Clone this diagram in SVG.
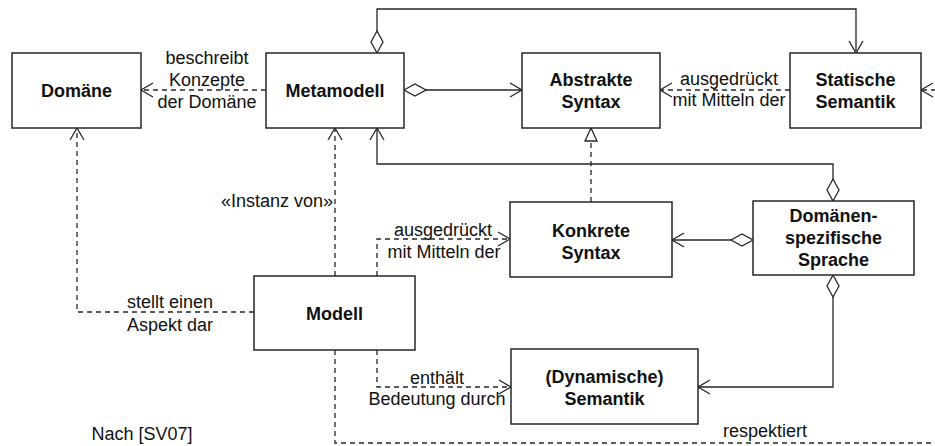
<svg xmlns="http://www.w3.org/2000/svg" width="935" height="446" viewBox="0 0 935 446">
  <style>
    .box { fill: #ffffff; stroke: #262626; stroke-width: 1.5; }
    .name { font-family: "Liberation Sans", Arial, sans-serif; font-size: 18px; font-weight: bold; fill: #111111; text-anchor: middle; }
    .lbl { font-family: "Liberation Sans", Arial, sans-serif; font-size: 18px; fill: #111111; text-anchor: middle; }
    .edge { fill: none; stroke: #262626; stroke-width: 1.3; }
    .dash { stroke-dasharray: 5 4; }
  </style>
  <defs>
    <marker id="open" markerUnits="userSpaceOnUse" markerWidth="20" markerHeight="20" refX="0" refY="0" orient="auto" overflow="visible">
      <polyline points="-12,-7 0,0 -12,7" fill="none" stroke="#262626" stroke-width="1.3"/>
    </marker>
    <marker id="diamond" markerUnits="userSpaceOnUse" markerWidth="30" markerHeight="20" refX="0" refY="0" orient="auto" overflow="visible">
      <polygon points="0,0 11,-6 22,0 11,6" fill="#ffffff" stroke="#262626" stroke-width="1.3"/>
    </marker>
    <marker id="triangle" markerUnits="userSpaceOnUse" markerWidth="20" markerHeight="20" refX="0" refY="0" orient="auto" overflow="visible">
      <polygon points="0,0 -13,-6 -13,6" fill="#ffffff" stroke="#262626" stroke-width="1.3"/>
    </marker>
  </defs>

  <rect width="935" height="446" fill="#ffffff"/>

  <!-- connectors -->
  <g id="connectors">
    <path class="edge dash" d="M266,90 H141" marker-end="url(#open)"/>
    <path class="edge" d="M404,90 H522" marker-start="url(#diamond)" marker-end="url(#open)"/>
    <path class="edge dash" d="M790,90 H660" marker-end="url(#open)"/>
    <path class="edge dash" d="M945,90 H921" marker-end="url(#open)"/>
    <path class="edge" d="M377,53 V9 H856 V53" marker-start="url(#diamond)" marker-end="url(#open)"/>
    <path class="edge" d="M833,201 V164 H377 V128" marker-start="url(#diamond)" marker-end="url(#open)"/>
    <path class="edge dash" d="M591,202 V128" marker-end="url(#triangle)"/>
    <path class="edge" d="M753,240 H672" marker-start="url(#diamond)" marker-end="url(#open)"/>
    <path class="edge" d="M833,275 V387 H698" marker-start="url(#diamond)" marker-end="url(#open)"/>
    <path class="edge dash" d="M254,312 H77 V128" marker-end="url(#open)"/>
    <path class="edge dash" d="M335,276 V128" marker-end="url(#open)"/>
    <path class="edge dash" d="M377,276 V239 H510" marker-end="url(#open)"/>
    <path class="edge dash" d="M377,350 V387 H511" marker-end="url(#open)"/>
    <path class="edge dash" d="M335,350 V443 H945"/>

    <text class="lbl" x="207" y="64">beschreibt</text>
    <text class="lbl" x="207" y="86">Konzepte</text>
    <text class="lbl" x="207" y="108">der Domäne</text>
    <text class="lbl" x="729" y="85">ausgedrückt</text>
    <text class="lbl" x="729" y="106">mit Mitteln der</text>
    <text class="lbl" x="333" y="207" text-anchor="end" style="text-anchor:end">«Instanz von»</text>
    <text class="lbl" x="443" y="236">ausgedrückt</text>
    <text class="lbl" x="444" y="258">mit Mitteln der</text>
    <text class="lbl" x="170" y="308">stellt einen</text>
    <text class="lbl" x="170" y="331">Aspekt dar</text>
    <text class="lbl" x="437" y="384">enthält</text>
    <text class="lbl" x="437" y="405">Bedeutung durch</text>
    <text class="lbl" x="765" y="437">respektiert</text>
  </g>

  <!-- nodes -->
  <g id="domaene">
    <rect class="box" x="12" y="53" width="129" height="75"/>
    <text class="name" x="76.5" y="97">Domäne</text>
  </g>
  <g id="metamodell">
    <rect class="box" x="266" y="53" width="138" height="75"/>
    <text class="name" x="335" y="97">Metamodell</text>
  </g>
  <g id="abstrakte-syntax">
    <rect class="box" x="522" y="53" width="138" height="75"/>
    <text class="name" x="591" y="86">Abstrakte</text>
    <text class="name" x="591" y="108">Syntax</text>
  </g>
  <g id="statische-semantik">
    <rect class="box" x="790" y="53" width="131" height="75"/>
    <text class="name" x="855.5" y="86">Statische</text>
    <text class="name" x="855.5" y="108">Semantik</text>
  </g>
  <g id="konkrete-syntax">
    <rect class="box" x="510" y="202" width="162" height="75"/>
    <text class="name" x="591" y="237">Konkrete</text>
    <text class="name" x="591" y="259">Syntax</text>
  </g>
  <g id="dsl">
    <rect class="box" x="753" y="201" width="161" height="74"/>
    <text class="name" x="833.5" y="222">Domänen-</text>
    <text class="name" x="833.5" y="244">spezifische</text>
    <text class="name" x="833.5" y="266">Sprache</text>
  </g>
  <g id="modell">
    <rect class="box" x="254" y="276" width="161" height="74"/>
    <text class="name" x="334.5" y="320">Modell</text>
  </g>
  <g id="dynamische-semantik">
    <rect class="box" x="511" y="349" width="187" height="75"/>
    <text class="name" x="604.5" y="383">(Dynamische)</text>
    <text class="name" x="604.5" y="405">Semantik</text>
  </g>

  <text class="lbl" x="142" y="440">Nach [SV07]</text>
</svg>
